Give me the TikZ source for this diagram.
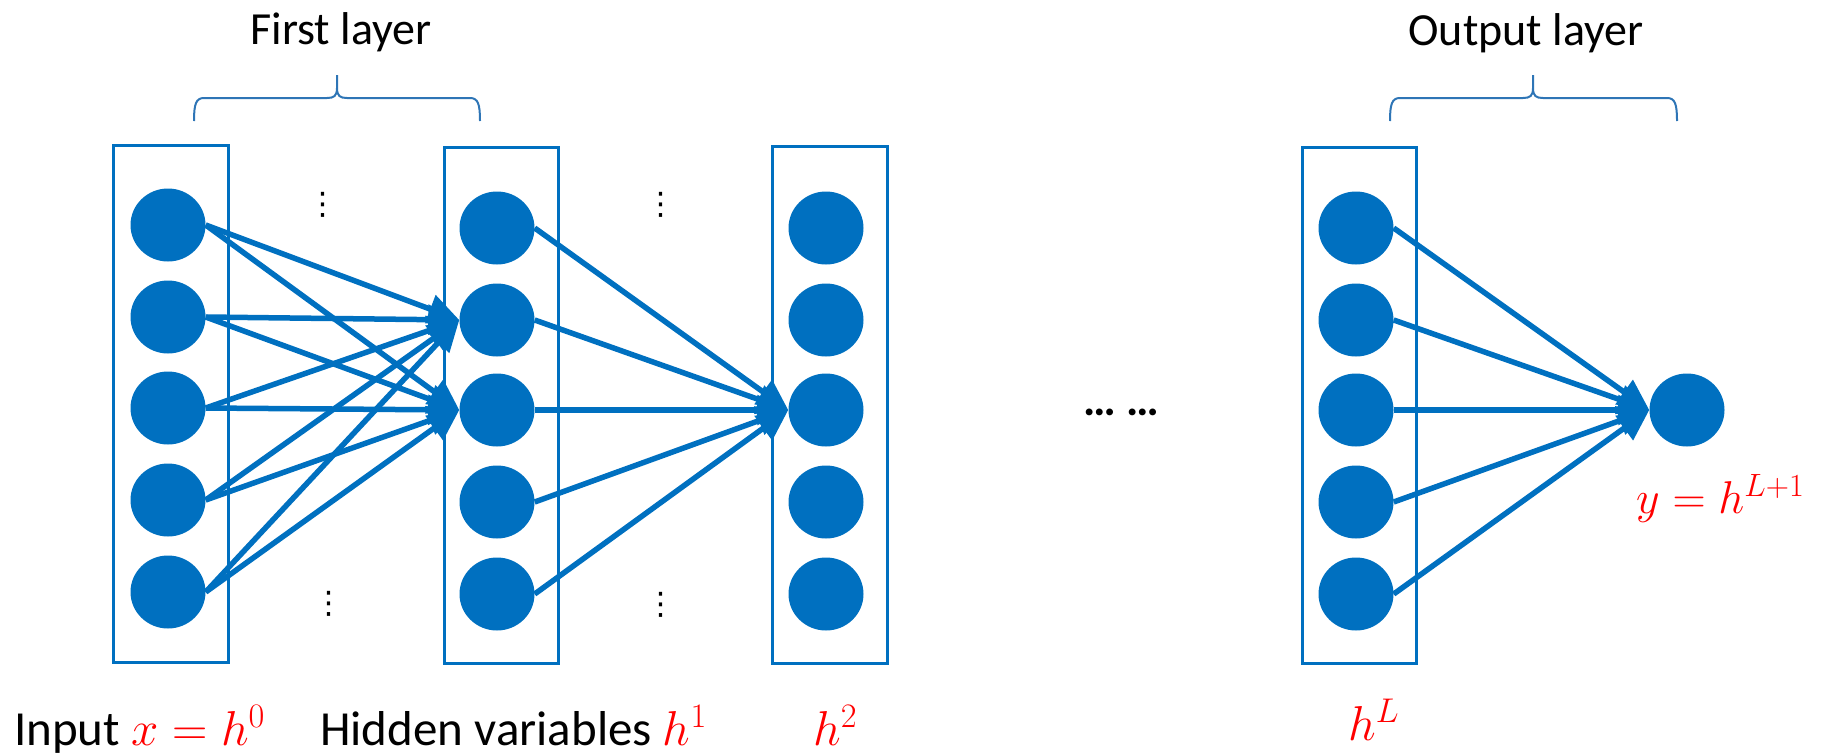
\RequirePackage{fix-cm}
\documentclass[tikz,border=0pt]{standalone}
\usepackage[no-math]{fontspec}
\setmainfont{Carlito}
\newfontfamily\dejavu{DejaVu Sans}
\usetikzlibrary{arrows.meta,shapes.geometric}
\definecolor{pblue}{HTML}{0070C0}
\definecolor{bracecol}{HTML}{2E75B6}
\begin{document}
\begin{tikzpicture}[x=1pt,y=-1pt,
  neuron/.style={ellipse,fill=pblue,draw=none,minimum width=75pt,minimum height=73pt,inner sep=0pt},
  layerbox/.style={draw=pblue,line width=3pt,inner sep=0pt},
  conn/.style={draw=pblue,line width=5.5pt,-{Triangle[length=31pt,width=29pt]}},
  bigtext/.style={font=\fontsize{46}{55}\selectfont,inner sep=0pt},
  lbl/.style={font=\fontsize{49}{58}\selectfont,inner sep=0pt,anchor=base west},
  vdotsnode/.style={font=\dejavu\fontsize{31}{36}\selectfont,inner sep=0pt},
  bracepath/.style={draw=bracecol,line width=2pt}]
\useasboundingbox (0,0) rectangle (1829,755);

% layer boxes
\node[layerbox,minimum width=115pt,minimum height=517pt] (box1) at (170.5,403.5) {};
\node[layerbox,minimum width=114pt,minimum height=516pt] (box2) at (501,405) {};
\node[layerbox,minimum width=115pt,minimum height=517pt] (box3) at (829.5,404.5) {};
\node[layerbox,minimum width=114pt,minimum height=516pt] (box4) at (1359,405) {};

% neurons
\foreach \i/\y in {1/225,2/317,3/408,4/500,5/592}
  \node[neuron] (a\i) at (168,\y) {};
\foreach \i/\y in {1/228,2/320,3/410,4/502,5/594} {
  \node[neuron] (b\i) at (497,\y) {};
  \node[neuron] (c\i) at (826,\y) {};
  \node[neuron] (d\i) at (1356,\y) {};
}
\node[neuron] (out) at (1687,410) {};

% connections
\foreach \i in {1,...,5} {
  \draw[conn] (a\i.east) -- (b2.west);
  \draw[conn] (a\i.east) -- (b3.west);
}
\foreach \i in {1,...,5}
  \draw[conn] (b\i.east) -- (c3.west);
\foreach \i in {1,...,5}
  \draw[conn] (d\i.east) -- (out.west);

% vertical dots
\node[vdotsnode] (vd1) at (323,205) {⋮};
\node[vdotsnode] (vd2) at (329,604) {⋮};
\node[vdotsnode] (vd3) at (661,205) {⋮};
\node[vdotsnode] (vd4) at (661,605) {⋮};

% horizontal dots
\node[bigtext,anchor=base] (hd) at (1121,415) {\bfseries … …};

% braces
\draw[bracepath] (194,121) .. controls (194,104) and (196,98) .. (204,98) -- (327,98)
  .. controls (334,98) and (337,96) .. (337,88) -- (337,75) -- (337,88)
  .. controls (337,96) and (340,98) .. (347,98) -- (470,98)
  .. controls (478,98) and (480,104) .. (480,121);
\draw[bracepath] (1390,121) .. controls (1390,104) and (1392,98) .. (1400,98) -- (1523,98)
  .. controls (1530,98) and (1533,96) .. (1533,88) -- (1533,75) -- (1533,88)
  .. controls (1533,96) and (1536,98) .. (1543,98) -- (1667,98)
  .. controls (1675,98) and (1677,104) .. (1677,121);

% titles
\node[bigtext,anchor=base] (t1) at (341,44) {First layer};
\node[bigtext,anchor=base] (t2) at (1526,45) {Output layer};

% bottom labels
\node[lbl] (l0) at (14,745) {Input {\color{red}$x=h^0$}};
\node[lbl] (l1) at (320,745) {Hidden variables {\color{red}$h^1$}};
\node[lbl] (l2) at (813,745) {\color{red}$h^2$};
\node[lbl] (lL) at (1348,740) {\color{red}$h^L$};
\node[bigtext,anchor=base west] (ly) at (1636,513) {\color{red}$y=h^{L+1}$};
\end{tikzpicture}
\end{document}
